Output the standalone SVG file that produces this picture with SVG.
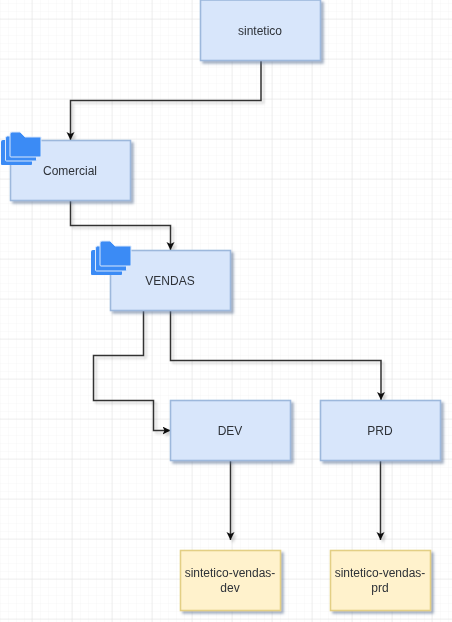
<svg xmlns="http://www.w3.org/2000/svg" width="452" height="622" viewBox="0 0 452 622">
<style>
.n{stroke-width:1.6;filter:url(#sh)}
.b{fill:#d8e6fb;stroke:#9db8dc}
.y{fill:#fff2cc;stroke:#e3cf85}
text{font-family:"Liberation Sans",Arial,sans-serif;font-size:12px;fill:#2e3238;text-anchor:middle}
.e{fill:none;stroke:#333;stroke-width:1.5;marker-end:url(#a);filter:url(#sl)}
.f{fill:#3a8bf5}
</style>
<defs>
<filter id="sh" x="-10%" y="-10%" width="125%" height="125%"><feDropShadow dx="2.5" dy="2.5" stdDeviation="1.2" flood-color="#5a6e90" flood-opacity="0.55"/></filter>
<filter id="sl" filterUnits="userSpaceOnUse" x="0" y="0" width="452" height="622"><feDropShadow dx="2.5" dy="2.5" stdDeviation="1.2" flood-color="#000" flood-opacity="0.18"/></filter>
<filter id="soft" filterUnits="userSpaceOnUse" x="0" y="0" width="452" height="622"><feGaussianBlur stdDeviation="0.4"/></filter>
<marker id="a" markerUnits="userSpaceOnUse" markerWidth="10" markerHeight="10" refX="8" refY="4" orient="auto"><path d="M0 0L8 4L0 8L2 4Z" fill="#111"/></marker>
<pattern id="gm" width="8" height="8" patternUnits="userSpaceOnUse" x="1" y="4"><path d="M8 0V8M0 8H8" fill="none" stroke="#f6f6f6" stroke-width="1"/></pattern>
<pattern id="gM" width="40" height="40" patternUnits="userSpaceOnUse" x="-7.500" y="-20.500"><path d="M40 0V40M0 40H40" fill="none" stroke="#e0e0e0" stroke-width="1"/></pattern>
<path id="fd" d="M0 2Q0 0 2 0H10L15 5H31V24Q31 25 30 25H1Q0 25 0 24Z"/>
</defs>
<rect width="452" height="622" fill="#fff"/>
<rect width="452" height="622" fill="url(#gm)"/>
<rect width="452" height="622" fill="url(#gM)"/>
<g filter="url(#soft)">
<g id="connectors">
<path class="e" d="M261 61V100.500H70.500V140"/>
<path class="e" d="M70.500 200V225.500H170.500V250"/>
<path class="e" d="M143.500 310V355.500H93.500V400.500H153.500V430.500H170.500"/>
<path class="e" d="M170.500 310V360.500H381V400"/>
<path class="e" d="M230.500 460V540"/>
<path class="e" d="M380.500 460V540"/>
</g>
<g id="sintetico"><rect class="n b" x="200.500" y="0" width="120" height="60.500"/><text x="260" y="35">sintetico</text></g>
<g id="comercial"><rect class="n b" x="10.500" y="140.500" width="120" height="60"/><text x="70" y="174.500">Comercial</text>
<g class="f"><use href="#fd" x="1" y="140"/><use href="#fd" x="5.500" y="136" stroke="#dae8fc" stroke-width="1"/><use href="#fd" x="10" y="132" stroke="#dae8fc" stroke-width="1"/></g></g>
<g id="vendas"><rect class="n b" x="110.500" y="250.500" width="120" height="60"/><text x="170" y="284.500">VENDAS</text>
<g class="f"><use href="#fd" x="91" y="250"/><use href="#fd" x="95.500" y="246" stroke="#dae8fc" stroke-width="1"/><use href="#fd" x="100" y="241" stroke="#dae8fc" stroke-width="1"/></g></g>
<g id="dev"><rect class="n b" x="170.500" y="400.500" width="120" height="60"/><text x="230" y="434.500">DEV</text></g>
<g id="prd"><rect class="n b" x="320.500" y="400.500" width="120" height="60"/><text x="380" y="434.500">PRD</text></g>
<g id="sintetico-vendas-dev"><rect class="n y" x="180.500" y="550.500" width="100" height="60"/><text x="230" y="577">sintetico-vendas-</text><text x="230" y="592">dev</text></g>
<g id="sintetico-vendas-prd"><rect class="n y" x="330.500" y="550.500" width="100" height="60"/><text x="380" y="577">sintetico-vendas-</text><text x="380" y="592">prd</text></g>
</g>
</svg>
